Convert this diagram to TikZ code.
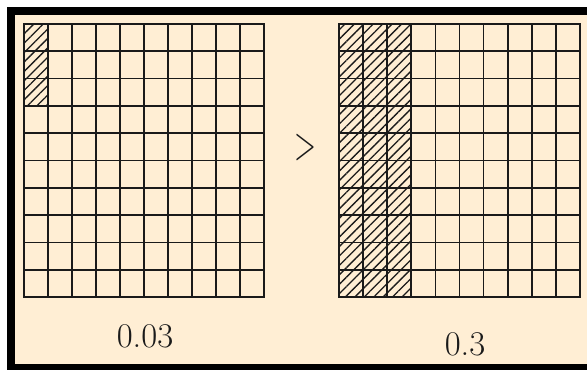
\documentclass[tikz,border=0pt]{standalone}
\usepackage{fontspec}
\usepackage{tikz}
\usepackage{xcolor}
\usetikzlibrary{patterns.meta}
\definecolor{paper}{HTML}{FFEED4}
\definecolor{ink}{HTML}{1A1A1A}
\tikzset{
  frame/.style={fill=black},
  sheet/.style={fill=paper},
  cell/.style={draw=ink,line width=1.3pt,line cap=rect},
  shaded/.style={pattern={Lines[angle=45,distance=5pt,line width=1pt]},pattern color=ink},
  value/.style={font=\fontsize{26}{30}\selectfont,text=ink,inner sep=0pt,anchor=base},
  relation/.style={font=\fontsize{36}{36}\selectfont,text=ink,inner sep=0pt}
}

\begin{document}
\begin{tikzpicture}[x=0.75pt,y=-0.75pt]
        \useasboundingbox (0,0) rectangle (587,369);
        \clip (0,0) rectangle (587,369);
        \fill[white] (0,0) rectangle (587,369);
        \fill[frame] (7,7) rectangle (600,380);
        \fill[sheet] (15,15) rectangle (595,364);
        % hatched parts
        \fill[shaded] (24,24) rectangle (48,105.9);
        \fill[shaded] (339,24) rectangle (411.3,297);
        % the two hundred-grids
        \foreach \i in {0,...,10} {
          \draw[cell] (24+24*\i,24) -- (24+24*\i,297);
          \draw[cell] (24,24+27.3*\i) -- (264,24+27.3*\i);
          \draw[cell] (339+24.1*\i,24) -- (339+24.1*\i,297);
          \draw[cell] (339,24+27.3*\i) -- (580,24+27.3*\i);
        }
        \node[relation] (gt) at (305,148) {\scalebox{0.6}[1]{>}};
        \node[value] (small) at (145,347) {0.03};
        \node[value] (large) at (465,355) {0.3};
      \end{tikzpicture}
\end{document}
